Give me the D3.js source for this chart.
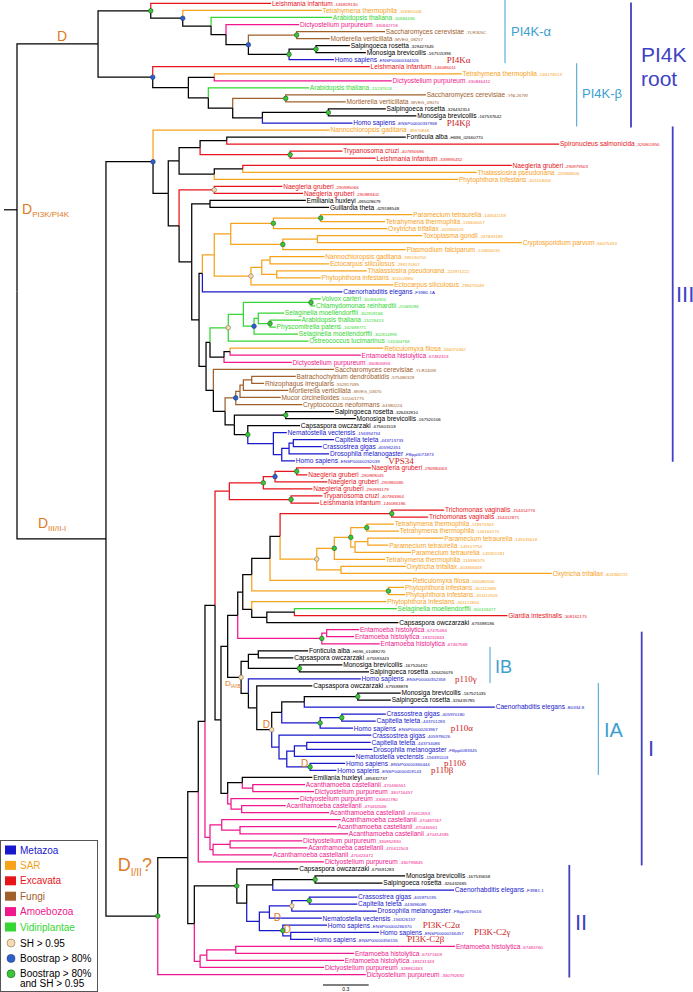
<!DOCTYPE html>
<html><head><meta charset="utf-8">
<script src="https://cdn.jsdelivr.net/npm/d3@7"></script>
<style>body{margin:0;background:#fff}svg{display:block}</style>
</head><body><svg id="c" width="693" height="992"></svg>
<script>
// ---------------- DATA ----------------
const leafNames = ["Leishmania infantum","Tetrahymena thermophila","Arabidopsis thaliana","Dictyostelium purpureum","Saccharomyces cerevisiae","Mortierella verticillata","Salpingoeca rosetta","Monosiga brevicollis","Homo sapiens",
"Leishmania infantum","Tetrahymena thermophila","Dictyostelium purpureum","Arabidopsis thaliana","Saccharomyces cerevisiae","Mortierella verticillata","Salpingoeca rosetta","Monosiga brevicollis","Homo sapiens",
"Nannochloropsis gaditana","Fonticula alba","Spironucleus salmonicida","Trypanosoma cruzi","Leishmania infantum","Naegleria gruberi","Thalassiosira pseudonana","Phytophthora infestans","Naegleria gruberi","Naegleria gruberi","Emiliania huxleyi","Guillardia theta",
"Paramecium tetraurelia","Tetrahymena thermophila","Oxytricha trifallax","Toxoplasma gondii","Cryptosporidium parvum","Plasmodium falciparum","Nannochloropsis gaditana","Ectocarpus siliculosus","Thalassiosira pseudonana","Phytophthora infestans","Ectocarpus siliculosus","Caenorhabditis elegans",
"Volvox carteri","Chlamydomonas reinhardtii","Selaginella moellendorffii","Arabidopsis thaliana","Physcomitrella patens","Selaginella moellendorffii","Ostreococcus lucimarinus",
"Reticulomyxa filosa","Entamoeba histolytica","Dictyostelium purpureum",
"Saccharomyces cerevisiae","Batrachochytrium dendrobatidis","Rhizophagus irregularis","Mortierella verticillata","Mucor circinelloides","Cryptococcus neoformans",
"Salpingoeca rosetta","Monosiga brevicollis","Capsaspora owczarzaki",
"Nematostella vectensis","Capitella teleta","Crassostrea gigas","Drosophila melanogaster","Homo sapiens",
"Naegleria gruberi","Naegleria gruberi","Naegleria gruberi","Naegleria gruberi","Trypanosoma cruzi","Leishmania infantum","Trichomonas vaginalis","Trichomonas vaginalis",
"Tetrahymena thermophila","Tetrahymena thermophila","Paramecium tetraurelia","Paramecium tetraurelia","Paramecium tetraurelia","Tetrahymena thermophila","Oxytricha trifallax","Oxytricha trifallax","Reticulomyxa filosa","Phytophthora infestans","Phytophthora infestans","Phytophthora infestans",
"Selaginella moellendorffii","Giardia intestinalis","Capsaspora owczarzaki",
"Entamoeba histolytica","Entamoeba histolytica","Entamoeba histolytica",
"Fonticula alba","Capsaspora owczarzaki","Monosiga brevicollis","Salpingoeca rosetta","Homo sapiens",
"Capsaspora owczarzaki","Monosiga brevicollis","Salpingoeca rosetta","Caenorhabditis elegans","Crassostrea gigas","Capitella teleta","Homo sapiens","Crassostrea gigas","Capitella teleta","Drosophila melanogaster","Nematostella vectensis","Homo sapiens","Homo sapiens",
"Emiliania huxleyi","Acanthamoeba castellanii","Dictyostelium purpureum","Dictyostelium purpureum","Acanthamoeba castellanii","Acanthamoeba castellanii","Acanthamoeba castellanii","Acanthamoeba castellanii","Acanthamoeba castellanii","Dictyostelium purpureum","Acanthamoeba castellanii","Acanthamoeba castellanii","Dictyostelium purpureum",
"Capsaspora owczarzaki","Monosiga brevicollis","Salpingoeca rosetta","Caenorhabditis elegans","Crassostrea gigas","Capitella teleta","Drosophila melanogaster","Nematostella vectensis","Homo sapiens","Homo sapiens","Homo sapiens",
"Entamoeba histolytica","Entamoeba histolytica","Entamoeba histolytica","Dictyostelium purpureum","Dictyostelium purpureum"];

const leafIds = ["-146829130","-118361008","-30684436","-330842718","-YLR305C","-MVEG_08257","-329427645","-167515396","-ENSP00000344326",
"-146086011","-146174513","-330846412","-15237618","-YNL267W","-MVEG_09070","-326432314","-167537642","-ENSP00000337968",
"-39370848","-H696_02660770","-326801850","-407850686","-339896432","-290979503","-220968606","-301103056","-290985066","-290989402","-485028679","-429188548",
"-145541159","-118400017","-403356523","-237843189","-66475453","-124806235","-395130701","-299170307","-223971222","-301103960","-299472049","-F39B1.1A",
"-302844920","-21069286","-302818186","-15219413","-162688771","-302814995","-145344769",
"-566074362","-67482313","-330805855",
"-YLR240W","-575486328","-552917095","-MVEG_03670","-511001775","-64380224",
"-326432810","-167520106","-675601518",
"-156394734","-443713733","-405962451","-FBpp0071873","-ENSP00000262039",
"-290980063","-290989045","-290980585","-290993179","-407863864","-146086186","-154414776","-154412871",
"-118370343","-146164170","-145535618","-145517754","-145551281","-118396575","-403368408","-403366721","-566086556","-301112685","-301112505","-301122850",
"-300153477","-308162175","-675598186",
"-67470484","-183232663","-67467588",
"-H696_01088270","-675593443","-167520432","-326426076","-ENSP00000352358",
"-675598878","-167521035","-326435785","-B0334.8","-405970180","-443701283","-ENSP00000263967","-405978026","-443734086","-FBpp0083345","-156391103","-ENSP00000366444","-ENSP00000418143",
"-485832737","-470466561","-330716457","-330841780","-470432646","-470812653","-470487267","-470446561","-470414585","-330852830","-470412503","-470424472","-330795845",
"-675591283","-167535658","-326432685","-F39B1.1","-405975195","-443696085","-FBpp0075616","-156326157","-ENSP00000266370","-ENSP00000266457","-ENSP00000356155",
"-67483760","-67471609","-183231343","-328862463","-330792692"];

// M Metazoa, S SAR, E Excavata, F Fungi, A Amoebozoa, V Viridiplantae, K other
const leafGroups = ("ESVAFFKKM"+"ESAVFFKKM"+"SKEEEESSEEKK"+"SSSSSSSSSSSM"+"VVVVVVV"+"SAA"+"FFFFFF"+"KKK"+"MMMMM"+
  "EEEEEEEE"+"SSSSSSSSSSSS"+"VEK"+"AAA"+"KKKK"+"M"+"KKK"+"MMMMMMMMMM"+"K"+"AAAAAAAAAAAA"+"KKK"+"MMMMMMMM"+"AAAAA").split("");

// distance from root (substitutions / site) of each leaf
const leafDepths = [1.668,2.001,2.068,1.852,2.416,2.053,2.185,2.290,2.081,
2.316,2.920,2.460,1.917,2.684,2.158,2.421,2.622,2.202,
2.053,2.552,3.559,2.136,2.355,3.248,3.018,2.896,1.742,1.878,1.896,2.049,
2.596,2.416,2.431,2.661,3.314,2.552,2.018,2.049,2.296,1.994,2.471,2.136,
1.994,1.957,1.753,1.863,1.699,1.845,1.913,
2.405,2.257,1.804,
2.081,1.830,1.622,1.781,1.731,1.873,
2.081,2.224,1.858,
1.771,2.081,2.001,2.049,1.825,
2.322,1.906,2.037,1.939,2.005,1.983,2.804,2.699,
2.475,2.508,2.799,2.438,2.585,2.416,2.552,3.511,2.592,2.541,2.548,2.425,
2.493,3.219,2.504,
2.246,2.213,2.381,
1.911,1.814,2.136,2.311,2.257,
1.939,2.519,2.454,3.137,2.421,2.355,2.206,2.326,2.322,2.333,2.219,2.154,2.097,
1.939,1.891,1.950,1.852,1.764,2.049,2.125,2.098,2.173,1.873,1.906,1.676,2.016,
1.847,2.548,2.399,2.869,2.234,2.234,2.362,2.001,2.035,2.377,1.944,
2.876,2.213,2.147,2.016,2.290];

// internal nodes: [depth, support, child, child]; leaves = 1-based index
// support: g = bootstrap>80% & SH>0.95, b = bootstrap>80%, s = SH>0.95
const A8=[1.963,"g",7,8], A7=[1.786,"g",A8,9], A6=[1.836,"g",5,6], A5=[1.519,"b",A6,A7],
      A4=[1.372,"",4,A5], A3=[1.274,"",3,A4], A2=[1.088,"b",2,A3], A1=[0.878,"g",1,A2];
const B8=[2.044,"g",16,17], B7=[1.611,"",B8,18], B6=[1.764,"g",14,15], B5=[1.416,"",B6,B7],
      B4=[1.256,"",13,B5], B3=[1.295,"",11,12], B2=[1.125,"",B3,B4], B1=[0.891,"b",10,B2];
const P4=[0.532,"",A1,B1];
const C4=[1.377,"",20,21], C5=[1.793,"g",22,23], C3=[1.202,"",C4,C5], C8=[1.482,"",24,25], C7=[1.295,"",C8,26],
      C2=[1.064,"",C3,C7], C10=[1.295,"s",27,28], C12=[1.267,"",29,30];
const S1a=[1.994,"g",31,32], S1=[1.683,"g",S1a,33], S2a=[1.972,"",34,35], S2=[1.745,"g",S2a,36], S3=[1.403,"",S1,S2],
      S5a=[1.661,"",37,38], S5b=[1.705,"",39,40], S5=[1.607,"",S5a,S5b], S4=[1.536,"s",S5,41], S0=[1.295,"",S3,S4],
      C14=[1.217,"",S0,42];
const V1=[1.930,"g",43,44], V4=[1.661,"g",46,47], V3=[1.584,"",45,V4], V2=[1.556,"b",V3,48], V5=[1.486,"",V1,V2], Vr=[1.387,"s",V5,49];
const C18=[1.399,"",50,51], C17=[1.359,"",C18,52], C16=[1.267,"",Vr,C17];
const F4=[1.541,"",54,55], F3=[1.486,"",F4,56], F2=[1.464,"",F3,57], F1=[1.436,"b",F2,58];
const Ch=[1.764,"g",59,60], M3=[1.814,"",63,64], M2=[1.786,"",M3,65], M1=[1.738,"",M2,66], Mz=[1.683,"",62,M1],
      H1=[1.515,"g",61,Mz], Hz=[1.427,"",Ch,H1], Xo=[1.366,"",F1,Hz], Op=[1.289,"",53,Xo];
const C15=[1.241,"",C16,Op], C13=[1.195,"",C14,C15], C11=[1.147,"",C12,C13], C9=[1.064,"",C10,C11],
      C1=[0.993,"",C2,C9], C0=[0.893,"b",19,C1];
const N1=[1.836,"g",67,68], N2=[1.694,"b",N1,69], N3=[1.617,"g",N2,70], Tn=[1.799,"g",71,72], N4=[1.394,"",N3,Tn];
const Tri=[2.460,"g",73,74], c1=[2.296,"g",75,76], c2a=[2.303,"",77,78], c2=[2.219,"",c2a,79], c3=[2.191,"g",c1,c2],
      c4=[2.083,"g",c3,80], c5=[2.127,"",81,82], c6=[1.968,"s",c4,c5], W1=[1.727,"",Tri,c6], W2=[1.661,"",W1,83],
      Ph=[2.438,"g",84,85], W3=[1.541,"",W2,Ph], W7=[1.821,"",87,88], W6=[1.640,"",W7,89], W5=[1.541,"",86,W6],
      W4=[1.482,"",W3,W5], EntP=[2.033,"",90,91], Ent=[2.001,"g",EntP,92], W8=[1.449,"",W4,Ent];
const FC=[1.584,"",93,94], ibch=[1.854,"g",95,96], ib1=[1.519,"",FC,ibch];
const iaCh=[2.237,"g",99,100], ia1=[1.886,"",iaCh,101], iaCc=[2.132,"g",102,103], ia2=[1.990,"g",iaCc,104], ia3=[1.738,"",ia1,ia2],
      iaCd=[1.902,"",106,107], iaCdn=[1.821,"",iaCd,108], iaH=[1.924,"g",109,110], iaX=[1.771,"",iaCdn,iaH], iaY=[1.720,"",105,iaX],
      iaD=[1.672,"s",ia3,iaY], iaTop=[1.574,"",98,iaD], ibhA=[1.519,"",97,iaTop], IAB=[1.471,"s",ib1,ibhA];
const W9=[1.383,"",W8,IAB];
const a1=[1.548,"",112,113], a2=[1.479,"",111,a1], a4=[1.475,"",115,116], Ya=[1.405,"",114,a4], Xa=[1.383,"",a2,Ya];
const V221=[1.339,"",W9,Xa], V215=[1.300,"",N4,V221];
const b1=[1.464,"",118,119], b2=[1.344,"",117,b1], b3=[1.399,"",120,121], b4=[1.287,"",b3,122], Pg=[1.267,"",b2,b4];
const Tt=[1.234,"",V215,Pg], K1=[1.190,"",Tt,123];
const qCh=[1.957,"g",125,126], Q1=[1.679,"",qCh,127], qCc=[1.919,"g",128,129], Be=[1.804,"s",qCc,130], Nemn=[1.657,"",Be,131],
      H1c=[1.797,"",133,134], H0c=[1.745,"g",132,H1c], Hpar=[1.591,"",Nemn,H0c], Q2=[1.508,"",Q1,Hpar], C2c=[1.443,"g",124,Q2];
const E2=[1.436,"",135,136], E1=[1.246,"",E2,137], E0=[1.202,"",E1,138], K2=[1.164,"",C2c,E0];
const Kk=[1.121,"",K1,K2], G=[0.924,"g",Kk,139];
const D3=[0.584,"",C0,G];
const tree=[0,"",P4,D3];

const groupNames = [["M","Metazoa"],["S","SAR"],["E","Excavata"],["F","Fungi"],["A","Amoebozoa"],["V","Vidiriplantae"]];
const supportNames = [["s","SH > 0.95"],["b","Boostrap > 80%"],["g","Boostrap > 80%","and SH > 0.95"]];
const geneLabels = [[9,"PI4K\u03b1"],[18,"PI4K\u03b2"],[66,"VPS34"],[97,"p110\u03b3"],[104,"p110\u03b1"],[109,"p110\u03b4"],[110,"p110\u03b2"],[132,"PI3K-C2\u03b1"],[133,"PI3K-C2\u03b3"],[134,"PI3K-C2\u03b2"]];
const geneLabelX = [446.7,446.7,388.3,455,450.7,444,431,422.7,474,407.3];
const scaleBarValue = 0.3;

// ---------------- STYLE ----------------
const color = {M:"#1818cc",S:"#f7a21b",E:"#e8141c",F:"#a0602c",A:"#f0168c",V:"#33d633",K:"#000"};
const dotFill = {g:"#39c639",b:"#2f5fc9",s:"#f4ddb4"};
const dotStroke = {g:"#1d5a1d",b:"#1b3a7d",s:"#8b6d4e"};
const FONT = "Liberation Sans, Arial, Helvetica, sans-serif";
const SERIF = "Liberation Serif, Times New Roman, serif";
const DCOL = "#e07a22";
const ROOT_STEM_FRAC = 0.335; // where the root stem is drawn along the root's vertical

const svg = d3.select("#c");
const x = d3.scaleLinear().domain([0, scaleBarValue]).range([17, 62.7]);
const y = d3.scaleLinear().domain([1, 139]).range([3.4, 974.5]);

function build(n){
  if (typeof n === "number") return {leaf:n, d:leafDepths[n-1], grp:leafGroups[n-1]};
  const [d,s,...ch] = n; return {d, s, children: ch.map(build)};
}
const root = build(tree);
const allNodes=[], links=[], leaves=[];
(function lay(n){
  n.x = x(n.d);
  if (n.leaf){ n.y = y(n.leaf); leaves.push(n); }
  else {
    n.children.forEach(lay);
    n.y = (n.children[0].y + n.children[n.children.length-1].y)/2;
    const gs = new Set(n.children.map(c=>c.grp));
    n.grp = gs.size===1 ? [...gs][0] : "K";
    n.children.forEach(c=>links.push({p:n,c}));
  }
  allNodes.push(n);
})(root);
const stemY = root.children[0].y + ROOT_STEM_FRAC*(root.children[1].y - root.children[0].y);

// root stem
svg.append("line").attr("x1",root.x-13).attr("x2",root.x).attr("y1",stemY).attr("y2",stemY)
  .attr("stroke","#000").attr("stroke-width",1.2);

svg.append("g").attr("fill","none").attr("stroke-width",1.25).selectAll("path").data(links).join("path")
  .attr("d",l=>`M${l.p.x},${l.p.y}V${l.c.y}H${l.c.x}`)
  .attr("stroke",l=>color[l.c.grp]);

svg.append("g").selectAll("circle").data(allNodes.filter(n=>n.s)).join("circle")
  .attr("cx",n=>n.x).attr("cy",n=>n.y).attr("r",2.3)
  .attr("fill",n=>dotFill[n.s]).attr("stroke",n=>dotStroke[n.s]).attr("stroke-width",0.6);

// leaf labels
const lg = svg.append("g").attr("font-family",FONT);
const leafText = {};
leaves.forEach(l=>{
  const i=l.leaf-1;
  const t = lg.append("text").attr("x",l.x+0.8).attr("y",l.y).attr("dy","0.35em")
     .attr("font-size",6.6).attr("fill",color[l.grp]);
  t.append("tspan").text(leafNames[i]);
  t.append("tspan").attr("font-size",4.4).attr("dx",1.4).text(leafIds[i]);
  leafText[l.leaf] = {node:t.node(), x:l.x+0.8};
});

// gene labels (red serif)
geneLabels.forEach(([li,txt],k)=>{
  const lt = leafText[li];
  const end = lt.x + lt.node.getComputedTextLength();
  svg.append("text").attr("x",Math.max(geneLabelX[k], end+2)).attr("y",y(li)).attr("dy","0.33em")
    .attr("font-family",SERIF).attr("font-size",9).attr("fill","#cc2222").text(txt);
});

// duplication labels
function dlabAt(xp, yp, main, sub, tail, fs, subfs){
  const t = svg.append("text").attr("x",xp).attr("y",yp).attr("font-family",FONT)
    .attr("font-size",fs).attr("fill",DCOL);
  t.append("tspan").text(main);
  if (sub) t.append("tspan").attr("font-size",subfs).attr("dy",fs*0.25).text(sub);
  if (tail) t.append("tspan").attr("dy",-fs*0.25).text(tail);
}
function dlab(n, dx, dy, main, sub, tail, fs, subfs){ dlabAt(n.x+dx, n.y+dy, main, sub, tail, fs, subfs); }
const byRef = new Map();
(function mapit(raw, n){ byRef.set(raw,n); if(n.children) n.children.forEach((c,k)=>mapit(raw[k+2],c)); })(tree, root);
dlabAt(root.x+5, stemY+4, "D", "PI3K/PI4K", "", 14, 8);
dlab(byRef.get(P4), -41, -3, "D", "", "", 14, 8);
dlab(byRef.get(D3), -68, -11, "D", "III/II-I", "", 14, 8);
dlab(byRef.get(G), -40, -45, "D", "I/II", "?", 18, 10);
dlab(byRef.get(IAB), -16, 9, "D", "IA/IB", "", 8, 4.5);
dlab(byRef.get(iaD), -9, -2, "D", "", "", 10, 6);
dlab(byRef.get(iaH), -9, 0, "D", "", "", 10, 6);
dlab(byRef.get(H0c), -9, -10, "D", "", "", 10, 6);
dlab(byRef.get(H1c), -7, -3, "D", "", "", 10, 6);

// clade bars
const LB="#3ea0cf", PB="#4141c4";
function bar(xp, y1, y2, col, w){ svg.append("line").attr("x1",xp).attr("x2",xp).attr("y1",y1).attr("y2",y2).attr("stroke",col).attr("stroke-width",w); }
function lab(xp, yp, txt, col, fs){ svg.append("text").attr("x",xp).attr("y",yp).attr("font-family",FONT).attr("font-size",fs).attr("fill",col).text(txt); }
bar(505, y(1)-3.5, y(9)+3.5, LB, 1); lab(511, 36, "PI4K-\u03b1", LB, 13);
bar(576.7, y(10)-3.5, y(18)+3.5, LB, 1); lab(582, 98, "PI4K-\u03b2", LB, 13);
bar(631, y(1)-1, y(18)+4.5, PB, 1.8); lab(641, 62, "PI4K", PB, 21); lab(641, 86, "root", PB, 21);
bar(672.7, y(19)-3.5, y(66)+1, PB, 1.8); lab(676, 302, "III", PB, 22);
bar(490, y(93)-4, y(97)+4, LB, 1); lab(495, 673, "IB", LB, 18);
bar(598.3, y(98)-3, y(110)+4.5, LB, 1); lab(604, 737, "IA", LB, 20);
bar(641.7, y(90)+2, y(123)+3.5, PB, 1.8); lab(648, 756, "I", PB, 22);
bar(569.3, y(124)-4, y(139)+3, PB, 1.8); lab(575, 930, "II", PB, 22);

// scale bar
const sb0 = 323;
svg.append("line").attr("x1",sb0).attr("x2",sb0 + x(scaleBarValue)-x(0)).attr("y1",985).attr("y2",985).attr("stroke","#000").attr("stroke-width",1);
svg.append("text").attr("x",sb0 + (x(scaleBarValue)-x(0))/2).attr("y",991).attr("text-anchor","middle").attr("font-family",FONT).attr("font-size",5).text(String(scaleBarValue));

// legend
const lgd = svg.append("g").attr("font-family",FONT);
lgd.append("rect").attr("x",0.5).attr("y",840.5).attr("width",97).attr("height",151).attr("fill","#fff").attr("stroke","#555").attr("stroke-width",1);
groupNames.forEach(([k,name],i)=>{
  const yy = 850 + i*15.4;
  lgd.append("rect").attr("x",5).attr("y",yy-4.5).attr("width",11).attr("height",9).attr("fill",color[k]);
  lgd.append("text").attr("x",20).attr("y",yy).attr("dy","0.36em").attr("font-size",10).attr("fill",color[k]).text(name);
});
supportNames.forEach(([k,l1,l2],i)=>{
  const yy = 943 + i*15.4;
  lgd.append("circle").attr("cx",11).attr("cy",yy).attr("r",4).attr("fill",dotFill[k]).attr("stroke",dotStroke[k]).attr("stroke-width",0.6);
  lgd.append("text").attr("x",20).attr("y",yy).attr("dy","0.36em").attr("font-size",10).attr("fill","#000").text(l1);
  if (l2) lgd.append("text").attr("x",20).attr("y",yy+10).attr("dy","0.36em").attr("font-size",10).attr("fill","#000").text(l2);
});
</script></body></html>
